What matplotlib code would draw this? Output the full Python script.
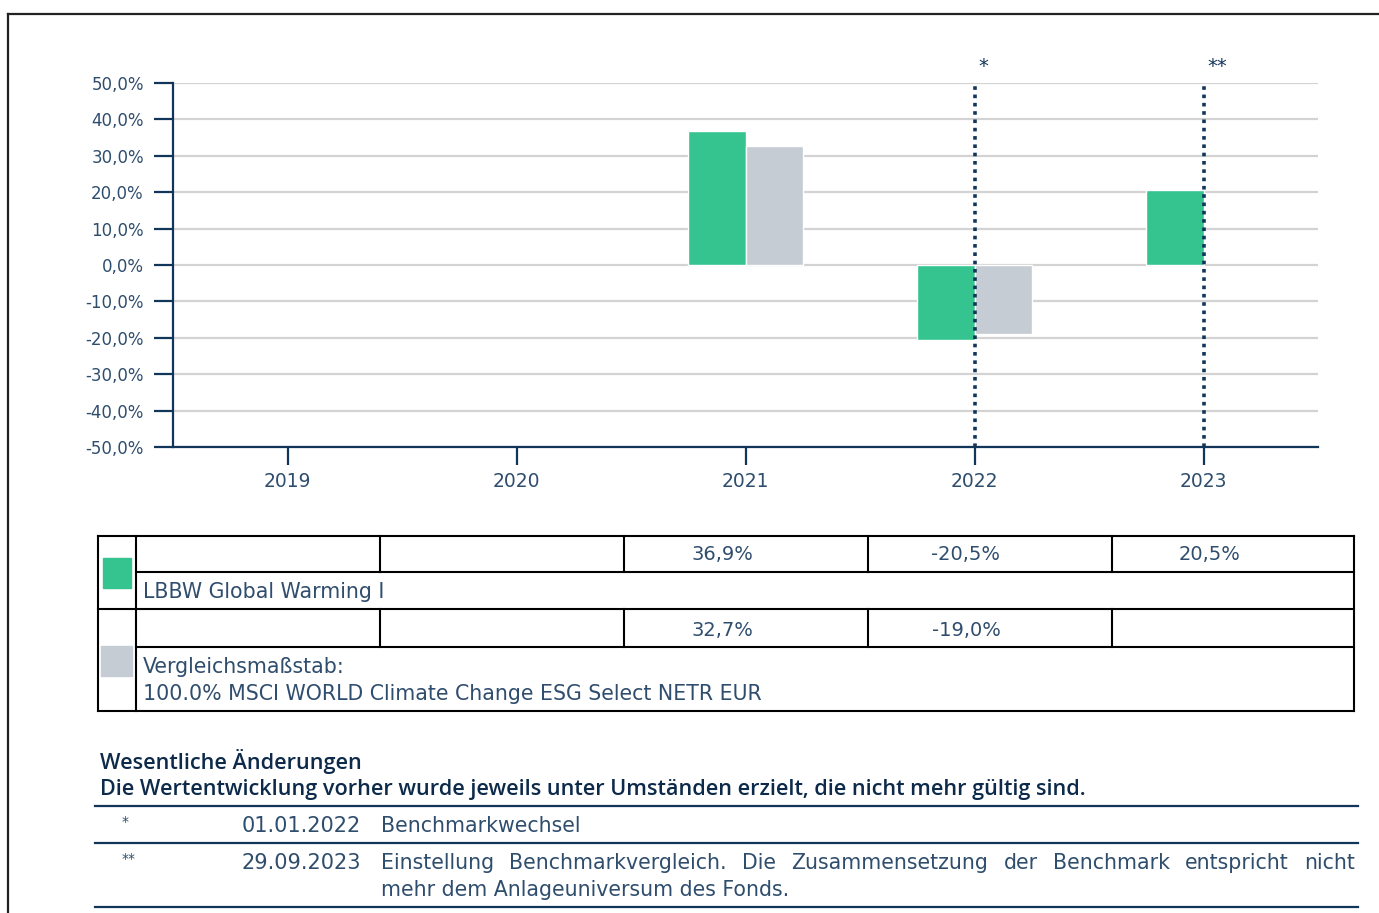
import numpy as np
import matplotlib.pyplot as plt
from matplotlib.patches import Rectangle

plt.rcParams['font.family'] = ['DejaVu Sans']
plt.rcParams['axes.unicode_minus'] = False

# data
jahre = ['2019', '2020', '2021', '2022', '2023']
fonds = [np.nan, np.nan, 36.9, -20.5, 20.5]
benchmark = [np.nan, np.nan, 32.7, -19.0, np.nan]
yticks = [-50, -40, -30, -20, -10, 0, 10, 20, 30, 40, 50]
marken = {3: '*', 4: '**'}
fonds_name = 'LBBW Global Warming I'
bench_name = ['Vergleichsmaßstab:', '100.0% MSCI WORLD Climate Change ESG Select NETR EUR']
titel = ['Wesentliche Änderungen',
         'Die Wertentwicklung vorher wurde jeweils unter Umständen erzielt, die nicht mehr gültig sind.']
notizen = [('*', '01.01.2022', ['Benchmarkwechsel']),
           ('**', '29.09.2023', ['Einstellung Benchmarkvergleich. Die Zusammensetzung der Benchmark entspricht nicht',
                                 'mehr dem Anlageuniversum des Fonds.'])]

gruen = '#35c48f'
grau = '#c5ccd3'
navy = '#12365a'
textfarbe = '#2f4d6d'
gross = 14.8   # long text
zahl = 14      # numbers

W, H = 1379, 913
fig = plt.figure(figsize=(W / 100, H / 100), dpi=100)

# overlay in pixel coordinates
ov = fig.add_axes([0, 0, 1, 1])
ov.set_xlim(0, W)
ov.set_ylim(H, 0)
ov.axis('off')


def blocksatz(x0, x1, y, text, **kw):
    # justified line: spread the words between x0 and x1
    r = fig.canvas.get_renderer()
    objs = [ov.text(x0, y, w, ha='left', va='center', **kw) for w in text.split()]
    breiten = [t.get_window_extent(r).width for t in objs]
    luecke = (x1 - x0 - sum(breiten)) / (len(objs) - 1)
    pos = x0
    for t, bw in zip(objs, breiten):
        t.set_x(pos)
        pos += bw + luecke


# chart
ax = fig.add_axes([173 / W, (H - 447) / H, (1318 - 173) / W, (447 - 83) / H])
ax.set_facecolor('none')
x = np.arange(len(jahre))
b = 0.25
ax.bar(x - b / 2, fonds, b, color=gruen, edgecolor='white', linewidth=1, zorder=3)
ax.bar(x + b / 2, benchmark, b, color=grau, edgecolor='white', linewidth=1, zorder=3)
ax.set_xlim(-0.5, len(jahre) - 0.5)
ax.set_ylim(-50, 50)
ax.set_yticks(yticks)
ax.set_yticklabels([f'{v:.1f}%'.replace('.', ',') for v in yticks])
ax.set_xticks(x)
ax.set_xticklabels(jahre)
ax.grid(axis='y', color='#d3d3d3', linewidth=1.6, zorder=0)
ax.set_axisbelow(True)
for s in ['top', 'right']:
    ax.spines[s].set_visible(False)
for s in ['left', 'bottom']:
    ax.spines[s].set_color(navy)
    ax.spines[s].set_linewidth(1.6)
ax.tick_params(axis='y', length=14, width=1.6, color=navy, pad=7, labelsize=12, labelcolor=textfarbe)
ax.tick_params(axis='x', length=13, width=1.6, color=navy, pad=5, labelsize=13.5, labelcolor=textfarbe)

for i, m in marken.items():
    ax.axvline(i, color=navy, linewidth=2.6, linestyle=(0, (1, 1.3)), zorder=4)
    ax.text(i + 0.015, 52, m, ha='left', va='bottom', fontsize=14, color=navy)

# outer frame
ov.plot([8, W], [14, 14], color='#222222', linewidth=1.6)
ov.plot([8, 8], [14, H], color='#222222', linewidth=1.6)

# table
lw = 1.5
links, leg, rechts = 98, 136, 1354
spalten = [136, 380, 624, 868, 1112, 1354]
for y in [536, 609, 711]:
    ov.plot([links, rechts], [y, y], color='black', linewidth=lw)
for y in [572, 647]:
    ov.plot([leg, rechts], [y, y], color='black', linewidth=lw)
for xx in [links, leg, rechts]:
    ov.plot([xx, xx], [536, 711], color='black', linewidth=lw)
for xx in spalten[1:-1]:
    ov.plot([xx, xx], [536, 572], color='black', linewidth=lw)
    ov.plot([xx, xx], [609, 647], color='black', linewidth=lw)

ov.add_patch(Rectangle((103, 558), 28, 30, color=gruen))
ov.add_patch(Rectangle((101, 646), 31, 30, color=grau))

for reihe, y in [(fonds, 555), (benchmark, 630)]:
    for j, v in enumerate(reihe):
        if not np.isnan(v):
            ov.text(spalten[j] + 98, y, f'{v:.1f}%'.replace('.', ','), ha='center', va='center',
                    fontsize=zahl, color=textfarbe)

ov.text(143, 592, fonds_name, ha='left', va='center', fontsize=gross, color=textfarbe)
for k, t in enumerate(bench_name):
    ov.text(143, 667 + k * 27, t, ha='left', va='center', fontsize=gross, color=textfarbe)

# notes
for k, t in enumerate(titel):
    ov.text(100, 761 + k * 28, t, ha='left', va='center', fontsize=15.6, color='#0d2a4a',
            family='Open Sans', weight='semibold')
for y in [806, 843, 907]:
    ov.plot([95, 1358], [y, y], color=navy, linewidth=1.6)
for (stern, datum, zeilen_txt), y in zip(notizen, [826, 863]):
    ov.text(122, y - 4, stern, ha='left', va='center', fontsize=10, color=textfarbe)
    ov.text(361, y, datum, ha='right', va='center', fontsize=15, color=textfarbe)
    for k, t in enumerate(zeilen_txt):
        if k < len(zeilen_txt) - 1:
            blocksatz(381, 1355, y + k * 27, t, fontsize=gross, color=textfarbe)
        else:
            ov.text(381, y + k * 27, t, ha='left', va='center', fontsize=gross, color=textfarbe)

fig.savefig('out.png', dpi=100)
